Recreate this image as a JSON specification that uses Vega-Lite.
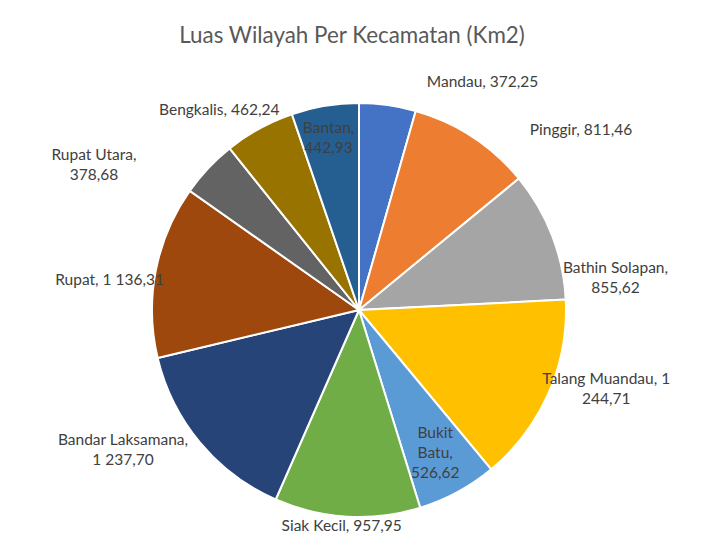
{
  "$schema": "https://vega.github.io/schema/vega-lite/v6.json",
  "width": 718,
  "height": 520,
  "autosize": {"type": "none"},
  "padding": {"left": 0, "top": 50, "right": 0, "bottom": 0},
  "background": "white",
  "title": {
    "text": "Luas Wilayah Per Kecamatan (Km2)",
    "font": "Lato",
    "fontSize": 22.4,
    "fontWeight": "normal",
    "color": "#595959",
    "anchor": "middle",
    "dx": -7,
    "offset": 3
  },
  "config": {
    "view": {"stroke": null}
  },
  "data": {
    "values": [
      {"name": "Mandau", "value": 372.25, "label": "Mandau, 372,25"},
      {"name": "Pinggir", "value": 811.46, "label": "Pinggir, 811,46"},
      {"name": "Bathin Solapan", "value": 855.62, "label": "Bathin Solapan,\n855,62"},
      {"name": "Talang Muandau", "value": 1244.71, "label": "Talang Muandau, 1\n244,71"},
      {"name": "Bukit Batu", "value": 526.62, "label": "Bukit\nBatu,\n526,62"},
      {"name": "Siak Kecil", "value": 957.95, "label": "Siak Kecil, 957,95"},
      {"name": "Bandar Laksamana", "value": 1237.70, "label": "Bandar Laksamana,\n1 237,70"},
      {"name": "Rupat", "value": 1136.31, "label": "Rupat, 1 136,31"},
      {"name": "Rupat Utara", "value": 378.68, "label": "Rupat Utara,\n378,68"},
      {"name": "Bengkalis", "value": 462.24, "label": "Bengkalis, 462,24"},
      {"name": "Bantan", "value": 442.93, "label": "Bantan,\n442,93"}
    ]
  },
  "transform": [{"window": [{"op": "row_number", "as": "idx"}]}],
  "encoding": {
    "theta": {"field": "value", "type": "quantitative", "stack": true},
    "order": {"field": "idx", "type": "quantitative"}
  },
  "layer": [
    {
      "mark": {"type": "arc", "radius": 207, "stroke": "white", "strokeWidth": 2},
      "encoding": {
        "color": {
          "field": "name",
          "type": "nominal",
          "legend": null,
          "scale": {
            "domain": ["Mandau", "Pinggir", "Bathin Solapan", "Talang Muandau", "Bukit Batu", "Siak Kecil", "Bandar Laksamana", "Rupat", "Rupat Utara", "Bengkalis", "Bantan"],
            "range": ["#4472C4", "#ED7D31", "#A5A5A5", "#FFC000", "#5B9BD5", "#70AD47", "#264478", "#9E480E", "#636363", "#997300", "#255E91"]
          }
        }
      }
    },
    {
      "mark": {
        "type": "text",
        "font": "Lato",
        "fontSize": 15.5,
        "color": "#404040",
        "lineBreak": "\n",
        "lineHeight": 20,
        "baseline": "middle",
        "align": {"expr": "indexof(['Mandau','Pinggir'], datum.name) >= 0 ? 'left' : 'center'"},
        "radius": {"expr": "[230,215,275,270,160,216,280,254,280,232,185][indexof(['Mandau','Pinggir','Bathin Solapan','Talang Muandau','Bukit Batu','Siak Kecil','Bandar Laksamana','Rupat','Rupat Utara','Bengkalis','Bantan'], datum.name)]"},
        "dx": {"expr": "[36,53,0,0,0,-5,-21,0,-61,-28,0][indexof(['Mandau','Pinggir','Bathin Solapan','Talang Muandau','Bukit Batu','Siak Kecil','Bandar Laksamana','Rupat','Rupat Utara','Bengkalis','Bantan'], datum.name)]"},
        "dy": {"expr": "[0,0,57,-40,-18,0,-49,18,37,3,0][indexof(['Mandau','Pinggir','Bathin Solapan','Talang Muandau','Bukit Batu','Siak Kecil','Bandar Laksamana','Rupat','Rupat Utara','Bengkalis','Bantan'], datum.name)]"}
      },
      "encoding": {
        "detail": {"field": "name"},
        "text": {"field": "label"}
      }
    }
  ]
}
